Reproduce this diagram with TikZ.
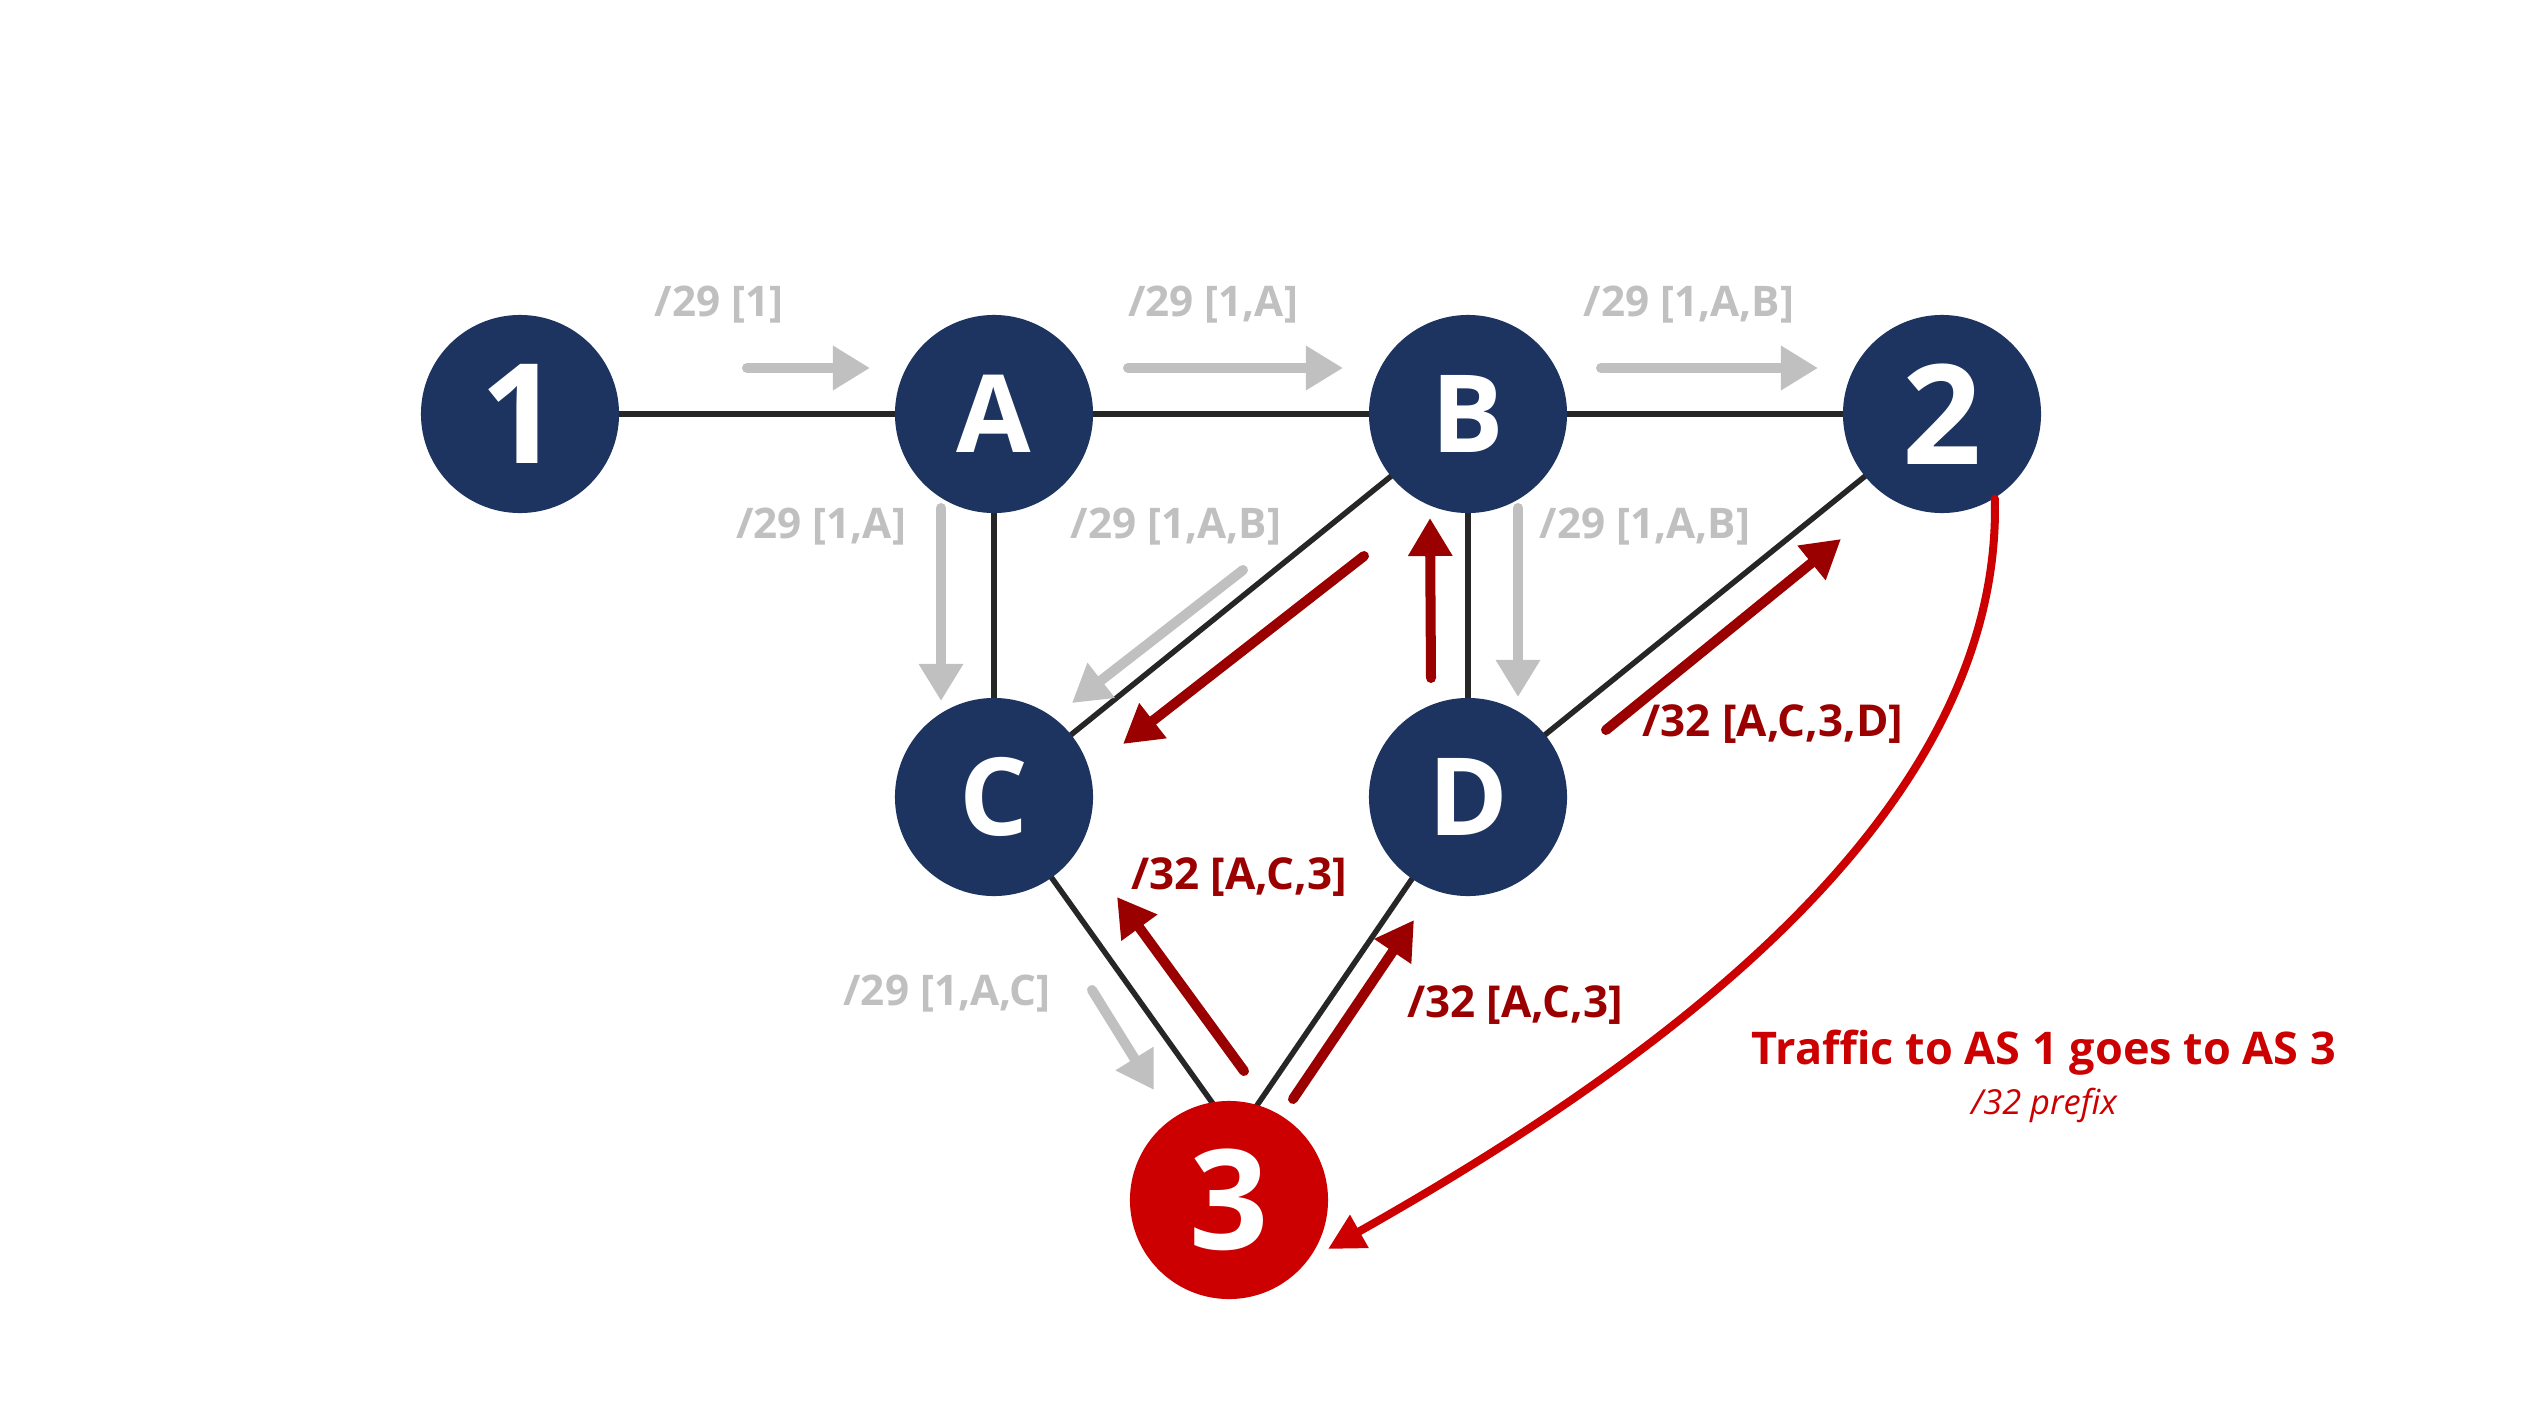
\documentclass[tikz,border=0pt]{standalone}
\usepackage{fontspec}
\setmainfont{Open Sans}
\usetikzlibrary{arrows.meta}
\definecolor{navy}{HTML}{1D3461}
\definecolor{nodered}{HTML}{CC0000}
\definecolor{edgeblack}{HTML}{262626}
\definecolor{arrgray}{HTML}{C0C0C0}
\definecolor{darkred}{HTML}{9A0000}
\definecolor{curvered}{HTML}{CC0000}
\tikzset{
  asnode/.style={circle, fill=navy, text=white, minimum size=1.98cm, inner sep=0pt, font=\bfseries\fontsize{30.7}{36}\selectfont},
  asnum/.style={asnode, font=\bfseries\fontsize{39.5}{46}\selectfont},
  rednode/.style={asnum, fill=nodered},
  link/.style={draw=edgeblack, line width=0.055cm},
  grayarr/.style={draw=arrgray, line width=0.1cm, line cap=round, -{Triangle[width=0.42cm, length=0.37cm]}},
  redarr/.style={draw=darkred, line width=0.1cm, line cap=round, -{Triangle[width=0.42cm, length=0.38cm]}},
  graylbl/.style={anchor=base, inner sep=0pt, text=arrgray, font=\bfseries\fontsize{12}{15}\selectfont},
  redlbl/.style={anchor=base, inner sep=0pt, text=darkred, font=\bfseries\fontsize{12.5}{15}\selectfont},
}
\begin{document}
\begin{tikzpicture}[x=0.01cm, y=-0.01cm]
\useasboundingbox[fill=white] (0,0) rectangle (2538,1424);

% node positions
\coordinate (p1) at (520,414);
\coordinate (pA) at (994,414);
\coordinate (pB) at (1468,414);
\coordinate (p2) at (1942,414);
\coordinate (pC) at (994,797);
\coordinate (pD) at (1468,797);
\coordinate (p3) at (1229,1200);
\coordinate (j3) at (1236,1136);

% links
\draw[link] (p1) -- (pA);
\draw[link] (pA) -- (pB);
\draw[link] (pB) -- (p2);
\draw[link] (pA) -- (pC);
\draw[link] (pB) -- (pD);
\draw[link] (pB) -- (pC);
\draw[link] (p2) -- (pD);
\draw[link] (pC) -- (j3);
\draw[link] (pD) -- (j3);

% nodes
\node[asnum]  (n1) at (p1) {1};
\node[asnode] (nA) at (pA) {A};
\node[asnode] (nB) at (pB) {B};
\node[asnum]  (n2) at (p2) {2};
\node[asnode] (nC) at (pC) {C};
\node[asnode] (nD) at (pD) {D};
\node[rednode] (n3) at (p3) {3};

% gray arrow end points
\coordinate (g1s) at (747,368);  \coordinate (g1e) at (870,368);
\coordinate (g2s) at (1128,368); \coordinate (g2e) at (1343,368);
\coordinate (g3s) at (1601,368); \coordinate (g3e) at (1818,368);
\coordinate (g4s) at (941,508);  \coordinate (g4e) at (941,701);
\coordinate (g5s) at (1243,570); \coordinate (g5e) at (1072,703);
\coordinate (g6s) at (1518,508); \coordinate (g6e) at (1518,697);
\coordinate (g7s) at (1092,990); \coordinate (g7e) at (1154,1090);

\draw[grayarr] (g1s) -- (g1e);
\draw[grayarr] (g2s) -- (g2e);
\draw[grayarr] (g3s) -- (g3e);
\draw[grayarr] (g4s) -- (g4e);
\draw[grayarr] (g5s) -- (g5e);
\draw[grayarr] (g6s) -- (g6e);
\draw[grayarr] (g7s) -- (g7e);

% red arrow end points
\coordinate (r1s) at (1364,556);  \coordinate (r1e) at (1123,744);
\coordinate (r2s) at (1431,678);  \coordinate (r2e) at (1430,518);
\coordinate (r3s) at (1606,730);  \coordinate (r3e) at (1841,539);
\coordinate (r4s) at (1244,1071); \coordinate (r4e) at (1117,897);
\coordinate (r5s) at (1293,1099); \coordinate (r5e) at (1414,920);

\draw[redarr] (r1s) -- (r1e);
\draw[redarr] (r2s) -- (r2e);
\draw[redarr] (r3s) -- (r3e);
\draw[redarr] (r4s) -- (r4e);
\draw[redarr] (r5s) -- (r5e);

% curved traffic arrow
\draw[draw=curvered, line width=0.08cm, line cap=round, -{Triangle[width=0.36cm, length=0.36cm]}]
  (n2.-58) .. controls (2002,800) and (1690,1045) .. (1328,1249);

% gray labels
\node[graylbl] (t1) at (719,316) {/29 [1]};
\node[graylbl] (t2) at (1213,316) {/29 [1,A]};
\node[graylbl] (t3) at (1689,316) {/29 [1,A,B]};
\node[graylbl] (t4) at (821,538) {/29 [1,A]};
\node[graylbl] (t5) at (1176,538) {/29 [1,A,B]};
\node[graylbl] (t6) at (1645,538) {/29 [1,A,B]};
\node[graylbl] (t7) at (947,1005) {/29 [1,A,C]};

% red labels
\node[redlbl] (u1) at (1773,736) {/32 [A,C,3,D]};
\node[redlbl] (u2) at (1239,889) {/32 [A,C,3]};
\node[redlbl] (u3) at (1515,1017) {/32 [A,C,3]};

% annotation
\node[anchor=base, inner sep=0pt, text=curvered, font=\bfseries\fontsize{12.8}{16}\selectfont] (tr) at (2044,1064) {Traffic to AS 1 goes to AS 3};
\node[anchor=base, inner sep=0pt, text=curvered, font=\itshape\fontsize{9.8}{12}\selectfont] (pf) at (2044,1114) {/32 prefix};
\end{tikzpicture}
\end{document}
